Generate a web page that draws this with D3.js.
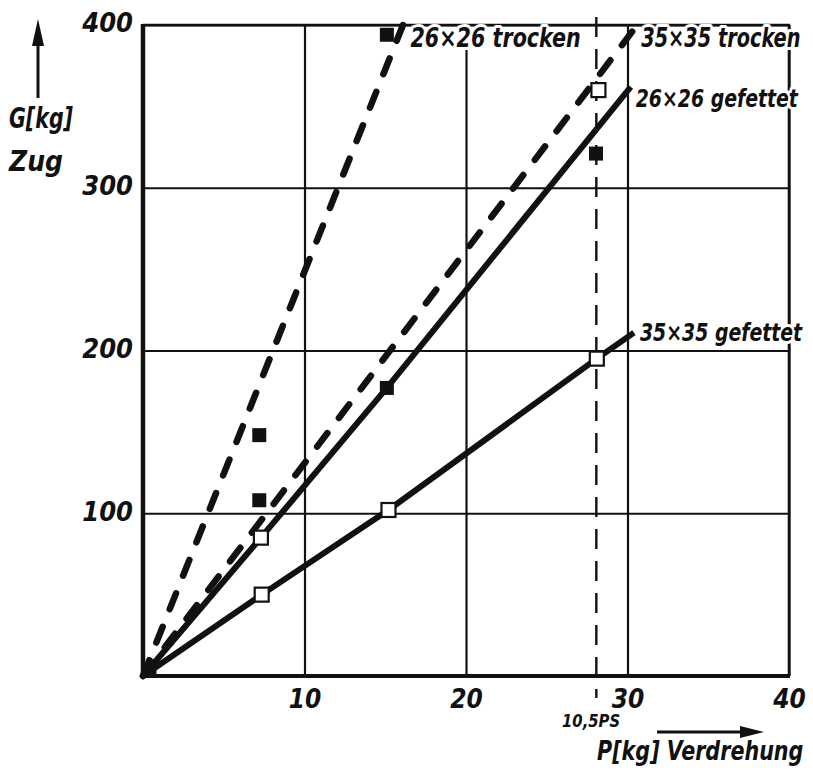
<!DOCTYPE html>
<html>
<head>
<meta charset="utf-8">
<script src="https://cdn.jsdelivr.net/npm/d3@7/dist/d3.min.js"></script>
<style>
  html, body { margin: 0; padding: 0; background: #fff; }
  svg { display: block; }
  text { font-family: "DejaVu Sans Condensed", "DejaVu Sans", sans-serif; font-weight: bold; font-style: italic; fill: #111; }
  text.halo { paint-order: stroke; stroke: #fff; stroke-width: 5px; stroke-linejoin: round; }
</style>
</head>
<body>
<script>
// ---- data ----
const xTicks = [10, 20, 30, 40];
const yTicks = [100, 200, 300, 400];
const xLabelTicks = ["10", "20", "30", "40"];
const yLabelTicks = ["100", "200", "300", "400"];

const dry26 = [[0, 0], [16.5, 410]];                                  // 26×26 trocken (dashed)
const dry35 = [[0, 0], [30.6, 400]];                                  // 35×35 trocken (dashed)
const greased26 = [[0, 0], [7.3, 85], [15.1, 177], [30.2, 362]];      // 26×26 gefettet (solid)
const greased35 = [[0, 0], [7.35, 50], [15.2, 102], [28.1, 195], [30.4, 211]]; // 35×35 gefettet (solid)

const openPoints = [[7.3, 85], [7.35, 50], [15.2, 102], [28.1, 195], [28.2, 360]];
const filledPoints = [[0.4, 4], [7.2, 108], [7.2, 148], [15.1, 177], [15.1, 394], [28.05, 321]];

const markerLine = 28.07;  // 10,5 PS

const seriesLabels = ["26×26 trocken", "35×35 trocken", "26×26 gefettet", "35×35 gefettet"];

// ---- drawing ----
const W = 813, H = 776;
const svg = d3.select("body").append("svg").attr("width", W).attr("height", H);

const x = d3.scaleLinear().domain([0, 40]).range([143, 789]);
const y = d3.scaleLinear().domain([0, 400]).range([676, 25]);

// grid + tick labels via axes
const xAxis = d3.axisBottom(x).tickValues(xTicks)
  .tickFormat((d, i) => xLabelTicks[i])
  .tickSize(-(y(0) - y(400))).tickPadding(14);
const gx = svg.append("g").attr("transform", `translate(0,${y(0)})`).call(xAxis);
gx.select(".domain").remove();
gx.selectAll(".tick line").attr("stroke", "#111").attr("stroke-width", 2.2);
gx.selectAll(".tick text").attr("font-size", 26).attr("fill", "#111")
  .style("font-family", "'DejaVu Sans Condensed', 'DejaVu Sans', sans-serif")
  .style("font-weight", "bold").style("font-style", "italic");

const yAxis = d3.axisLeft(y).tickValues(yTicks)
  .tickFormat((d, i) => yLabelTicks[i])
  .tickSize(-(x(40) - x(0))).tickPadding(10);
const gy = svg.append("g").attr("transform", `translate(${x(0)},0)`).call(yAxis);
gy.select(".domain").remove();
gy.selectAll(".tick line").attr("stroke", "#111").attr("stroke-width", 2.2);
gy.selectAll(".tick text").attr("font-size", 27).attr("fill", "#111").attr("dy", "0.25em")
  .style("font-family", "'DejaVu Sans Condensed', 'DejaVu Sans', sans-serif")
  .style("font-weight", "bold").style("font-style", "italic");

// frame: thick left & bottom axes
svg.append("line").attr("x1", x(0)).attr("x2", x(0)).attr("y1", y(400) - 1).attr("y2", y(0) + 2)
  .attr("stroke", "#111").attr("stroke-width", 4.5);
svg.append("line").attr("x1", x(0) - 2).attr("x2", x(40) + 1).attr("y1", y(0)).attr("y2", y(0))
  .attr("stroke", "#111").attr("stroke-width", 4);
svg.append("line").attr("x1", x(0)).attr("x2", x(40) + 1).attr("y1", y(400)).attr("y2", y(400))
  .attr("stroke", "#111").attr("stroke-width", 2.6);
svg.append("line").attr("x1", x(40)).attr("x2", x(40)).attr("y1", y(400)).attr("y2", y(0))
  .attr("stroke", "#111").attr("stroke-width", 2.6);

// 10,5 PS vertical dashed line
svg.append("line").attr("x1", x(markerLine)).attr("x2", x(markerLine))
  .attr("y1", y(400) - 8).attr("y2", y(0) + 22)
  .attr("stroke", "#111").attr("stroke-width", 2.4).attr("stroke-dasharray", "20,12");

const line = d3.line().x(d => x(d[0])).y(d => y(d[1]));

// solid lines
[greased26, greased35].forEach(s => {
  svg.append("path").attr("d", line(s)).attr("fill", "none")
    .attr("stroke", "#111").attr("stroke-width", 6).attr("stroke-linejoin", "round");
});
// dashed lines
[dry26, dry35].forEach(s => {
  svg.append("path").attr("d", line(s)).attr("fill", "none")
    .attr("stroke", "#111").attr("stroke-width", 6.5)
    .attr("stroke-linecap", "round").attr("stroke-dasharray", "17,19");
});

// markers
const ms = 14;
svg.selectAll(".filled").data(filledPoints).enter().append("rect")
  .attr("x", d => x(d[0]) - ms / 2).attr("y", d => y(d[1]) - ms / 2)
  .attr("width", ms).attr("height", ms).attr("fill", "#111");
svg.selectAll(".open").data(openPoints).enter().append("rect")
  .attr("x", d => x(d[0]) - ms / 2).attr("y", d => y(d[1]) - ms / 2)
  .attr("width", ms).attr("height", ms).attr("fill", "#fff")
  .attr("stroke", "#111").attr("stroke-width", 2.2);

// labels: smaller font stretched vertically to mimic the tall, narrow hand lettering
const lab = (t, px, py, fs, sy, cls) => svg.append("g")
  .attr("transform", `translate(${px},${py}) scale(1,${sy})`)
  .append("text").attr("class", cls || "halo").attr("x", 0).attr("y", 0)
  .attr("font-size", fs).text(t);
lab(seriesLabels[0], x(dry26[1][0]) + 1, y(400) + 22, 23, 1.18);
lab(seriesLabels[1], x(dry35[1][0]) + 4, y(400) + 22, 21.5, 1.22);
lab(seriesLabels[2], x(greased26[3][0]) + 5, y(greased26[3][1]) + 20, 21, 1.22);
lab(seriesLabels[3], x(greased35[4][0]) + 6, y(greased35[4][1]) + 8, 21, 1.22);

// 10,5PS label
lab("10,5PS", 562, 727, 16.5, 1.1);

// axis titles with arrows
const arrowHead = (pts) => svg.append("path").attr("d", "M" + pts.map(p => p.join(",")).join("L") + "Z").attr("fill", "#111");

// x title
svg.append("line").attr("x1", 657).attr("x2", 745).attr("y1", 732).attr("y2", 732)
  .attr("stroke", "#111").attr("stroke-width", 3);
arrowHead([[764, 732], [740, 726], [740, 738]]);
lab("P[kg] Verdrehung", 597, 760, 23, 1.12, "plain");

// y title
svg.append("line").attr("x1", 38).attr("x2", 38).attr("y1", 98).attr("y2", 40)
  .attr("stroke", "#111").attr("stroke-width", 3);
arrowHead([[38, 19], [32, 46], [44, 46]]);
svg.append("text").attr("x", 9).attr("y", 128).attr("font-size", 28)
  .attr("textLength", 64).attr("lengthAdjust", "spacingAndGlyphs").text("G[kg]");
svg.append("text").attr("x", 9).attr("y", 171).attr("font-size", 28)
  .attr("textLength", 54).attr("lengthAdjust", "spacingAndGlyphs").text("Zug");
</script>
</body>
</html>
